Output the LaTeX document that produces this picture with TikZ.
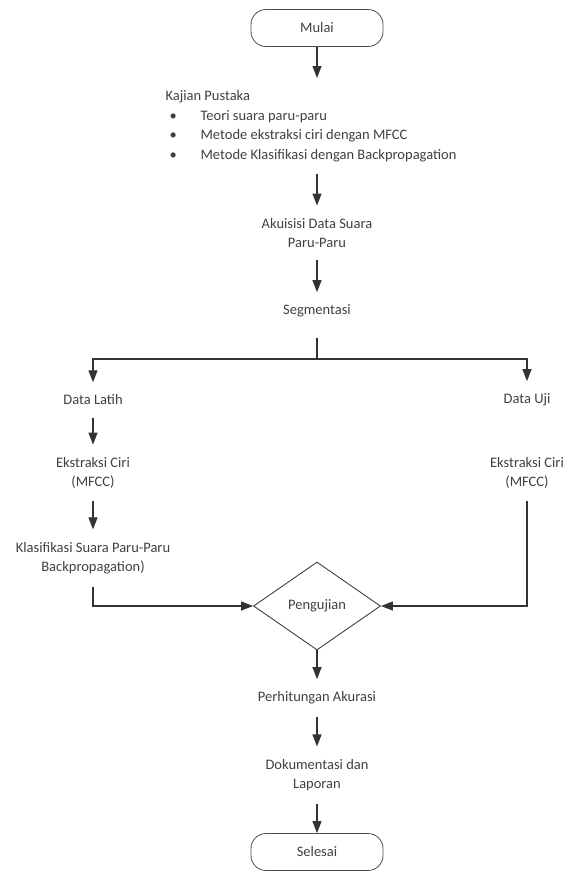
\documentclass[tikz,border=0pt]{standalone}
\usepackage{fontspec}
\setmainfont{Carlito}
\usetikzlibrary{arrows.meta,shapes.geometric}
\tikzset{
  teks/.style = {align=center, inner xsep=2pt, inner ysep=12pt,
    text=black!75, font=\fontsize{14.5}{19.5}\selectfont},
  terminal/.style = {teks, rectangle, rounded corners=15pt, draw=black!70,
    line width=0.8pt, minimum width=132pt, minimum height=37pt,
    inner ysep=0pt},% mulai / selesai
  proses/.style = {teks},% langkah, tanpa kotak
  daftar/.style = {teks, align=left, inner xsep=0pt},% kajian pustaka
  keputusan/.style = {teks, diamond, aspect=1.45, draw=black!75,
    line width=0.9pt, minimum width=127pt, minimum height=88pt,
    inner sep=0pt}% pengujian
}

\begin{document}
\begin{tikzpicture}[x=1pt, y=-1pt, ->, >={Triangle[length=12pt, width=9pt]},
                    line width=1.2pt, color=black!80]
  \useasboundingbox (0,0) rectangle (580,873);
  \node [terminal] (mulai) at (317,28) {Mulai};
  \node [daftar, anchor=north west] (kajian) at (165,78) {Kajian Pustaka\\
    \hspace*{4pt}\makebox[31pt][l]{\textbullet}Teori suara paru-paru\\
    \hspace*{4pt}\makebox[31pt][l]{\textbullet}Metode ekstraksi ciri dengan MFCC\\
    \hspace*{4pt}\makebox[31pt][l]{\textbullet}Metode Klasifikasi dengan Backpropagation};
  \node [proses] (akuisisi) at (317,233) {Akuisisi Data Suara\\Paru-Paru};
  \node [proses] (segmentasi) at (317,311) {Segmentasi};
  \coordinate (cabang) at (317,359);
  \node [proses] (latih) at (93,400) {Data Latih};
  \node [proses] (uji) at (527,400) {Data Uji};
  \node [proses] (ekstraksi1) at (93,473) {Ekstraksi Ciri\\(MFCC)};
  \node [proses] (ekstraksi2) at (527,473) {Ekstraksi Ciri\\(MFCC)};
  \node [proses] (klasifikasi) at (93,558) {Klasifikasi Suara Paru-Paru\\Backpropagation)};
  \node [keputusan] (pengujian) at (317,606) {Pengujian};
  \node [proses] (akurasi) at (317,698) {Perhitungan Akurasi};
  \node [proses] (laporan) at (317,775) {Dokumentasi dan\\Laporan};
  \node [terminal] (selesai) at (317,852) {Selesai};

  \draw (mulai) -- (mulai |- kajian.north);
  \draw (kajian.south -| akuisisi) -- (akuisisi);
  \draw (akuisisi) -- (segmentasi);
  \draw [-, shorten <=8pt] (segmentasi) -- (cabang);
  \draw (cabang) -| (latih);
  \draw (cabang) -| (uji);
  \draw (latih) -- (ekstraksi1);
  \draw (ekstraksi1) -- (klasifikasi);
  \draw (klasifikasi) |- (pengujian);
  \draw (ekstraksi2) |- (pengujian);
  \draw (pengujian) -- (akurasi);
  \draw (akurasi) -- (laporan);
  \draw (laporan) -- (selesai);
\end{tikzpicture}
\end{document}
